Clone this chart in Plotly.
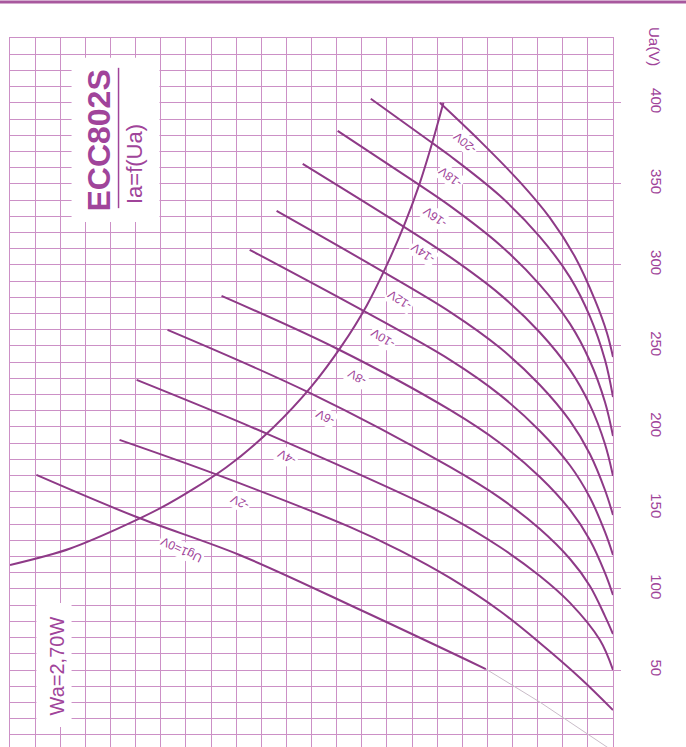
import plotly.graph_objects as go

# ---------------- data ----------------
# anode current Ia (mA) / anode voltage Ua (V) for each grid voltage
curve_names = ["Ug1=0V", "-2V", "-4V", "-6V", "-8V", "-10V", "-12V", "-14V", "-16V", "-18V", "-20V"]
curve_ia = [
    [22.95, 18.96, 14.86, 9.96, 5.06],
    [19.64, 15.74, 10.48, 8.49, 6.49, 4.50, 2.91, 1.31, 0.0],
    [18.96, 13.67, 6.49, 4.50, 2.91, 1.71, 0.52, 0.0],
    [17.73, 12.07, 6.49, 4.50, 2.91, 1.71, 0.92, 0.32, 0.0],
    [15.58, 10.96, 6.49, 4.50, 2.91, 1.71, 0.92, 0.32, 0.0],
    [14.46, 10.00, 6.49, 4.50, 2.91, 1.71, 0.92, 0.32, 0.0],
    [13.39, 9.28, 6.49, 4.50, 2.91, 1.71, 0.92, 0.32, 0.0],
    [12.35, 8.57, 6.49, 4.50, 2.91, 1.71, 0.92, 0.32, 0.0],
    [10.96, 7.89, 6.49, 4.50, 2.91, 1.71, 0.92, 0.32, 0.0],
    [9.64, 7.37, 6.49, 4.50, 2.91, 1.71, 0.92, 0.32, 0.0],
    [6.89, 5.30, 3.71, 2.51, 1.51, 0.72, 0.24, 0.0],
]
curve_ua = [
    [170.4, 144.4, 121.0, 86.4, 50.6],
    [192.0, 170.4, 138.3, 123.8, 106.8, 86.4, 66.7, 45.1, 25.3],
    [229.0, 195.1, 144.4, 125.9, 108.0, 91.4, 68.5, 50.0],
    [259.9, 221.0, 175.3, 156.2, 137.0, 118.5, 101.9, 83.3, 72.2],
    [280.9, 248.1, 210.5, 190.1, 169.1, 148.8, 130.2, 109.9, 96.3],
    [309.3, 272.2, 241.4, 219.8, 197.5, 176.2, 156.5, 135.2, 121.0],
    [333.3, 296.9, 271.0, 248.8, 225.9, 203.7, 183.3, 161.1, 145.7],
    [362.3, 325.9, 304.9, 281.8, 258.3, 235.2, 213.6, 189.5, 169.8],
    [382.7, 351.2, 336.4, 312.3, 287.7, 263.6, 240.7, 215.4, 194.4],
    [402.5, 377.2, 367.3, 342.6, 317.3, 292.3, 268.2, 241.4, 218.5],
    [400.0, 376.5, 351.2, 329.0, 304.9, 278.4, 258.0, 243.2],
]
# faint low-voltage continuation of the Ug1=0V curve
tail_ia = [5.06, 2.91, 0.0]
tail_ua = [50.6, 30.2, 0.0]

# max anode dissipation curve Wa = 2.70 W
wa_ua = [114.8, 125, 150, 175, 200, 225, 250, 275, 300, 325, 350, 375, 400]
wa_ia = [24.0, 21.6, 18.0, 15.4, 13.5, 12.0, 10.8, 9.8, 9.0, 8.3, 7.7, 7.2, 6.75]

# curve label anchor positions (Ia, Ua) and angle
label_ia = [17.17, 14.86, 12.99, 11.47, 10.20, 9.16, 8.49, 7.57, 7.09, 6.49, 5.90]
label_ua = [124.1, 153.7, 181.5, 206.2, 230.9, 254.9, 278.4, 307.4, 329.6, 354.3, 375.3]
label_ang = [-155, -153, -152, -151, -150, -148, -147, -145, -144, -143, -140]

ua_ticks = [0, 50, 100, 150, 200, 250, 300, 350, 400]

# ---------------- style ----------------
CURVE = "#8e3a87"
GRID = "#cc90c6"
TEXT = "#a0449a"
FONT = "Liberation Sans, Arial, sans-serif"

fig = go.Figure()

shapes = [
    dict(type="rect", xref="x", yref="y", x0=21.55, x1=18.05, y0=326.5, y1=427.8,
         fillcolor="white", line_width=0, layer="between"),
    dict(type="rect", xref="x", yref="y", x0=22.95, x1=21.55, y0=14.8, y1=91.4,
         fillcolor="white", line_width=0, layer="between"),
    dict(type="line", xref="x", yref="y", x0=19.68, x1=19.68, y0=335, y1=421.6,
         line=dict(color=TEXT, width=1.5), layer="above"),
    dict(type="line", xref="paper", yref="paper", x0=-0.02, x1=1.2, y0=1.0508, y1=1.0508,
         line=dict(color="#a8589e", width=3)),
]

fig.add_trace(go.Scatter(x=tail_ia, y=tail_ua, mode="lines",
                         line=dict(color="#c9bcc8", width=1), hoverinfo="skip", showlegend=False))
for name, xi, yi in zip(curve_names, curve_ia, curve_ua):
    fig.add_trace(go.Scatter(x=xi, y=yi, mode="lines", name=name,
                             line=dict(color=CURVE, width=2, shape="spline", smoothing=1.0),
                             showlegend=False))
fig.add_trace(go.Scatter(x=wa_ia, y=wa_ua, mode="lines", name="Wa",
                         line=dict(color=CURVE, width=2, shape="spline", smoothing=0.8),
                         showlegend=False))

annotations = []
for name, xi, yi, a in zip(curve_names, label_ia, label_ua, label_ang):
    annotations.append(dict(x=xi, y=yi, xref="x", yref="y", text=name, showarrow=False,
                            textangle=a, bgcolor="white", borderpad=1,
                            font=dict(family=FONT, size=12, color=TEXT)))
annotations += [
    dict(x=20.44, y=377, xref="x", yref="y", text="<b>ECC802S</b>", showarrow=False,
         textangle=-90, font=dict(family=FONT, size=32, color=TEXT)),
    dict(x=19.04, y=362, xref="x", yref="y", text="Ia=f(Ua)", showarrow=False,
         textangle=-90, font=dict(family=FONT, size=22, color=TEXT)),
    dict(x=22.15, y=52.5, xref="x", yref="y", text="Wa=2,70W", showarrow=False,
         textangle=-90, font=dict(family=FONT, size=20, color=TEXT)),
    dict(x=1.0697, y=0.9887, xref="paper", yref="paper", xanchor="center", yanchor="middle",
         text="Ua(V)", showarrow=False, textangle=90,
         font=dict(family=FONT, size=15, color=TEXT)),
    dict(x=1.0697, y=-0.0057, xref="paper", yref="paper", xanchor="center", yanchor="middle",
         text="0", showarrow=False, textangle=90,
         font=dict(family=FONT, size=15, color=TEXT)),
]

fig.update_layout(
    width=686, height=747,
    margin=dict(l=10, r=73, t=38, b=0),
    paper_bgcolor="white", plot_bgcolor="white",
    shapes=shapes, annotations=annotations,
    xaxis=dict(range=[24, 0], dtick=1, tick0=0, showgrid=True, gridcolor=GRID, gridwidth=1,
               showticklabels=False, ticks="", zeroline=False,
               showline=True, linecolor=GRID, linewidth=1, mirror=True),
    yaxis=dict(range=[2.5, 440], side="right", tickvals=ua_ticks, ticks="outside", ticklen=7,
               tickcolor=GRID, tickangle=90, showgrid=True, gridcolor=GRID, gridwidth=1,
               ticklabelstandoff=24,
               tickfont=dict(family=FONT, size=15, color=TEXT), zeroline=False,
               minor=dict(dtick=10, tick0=0, showgrid=True, gridcolor=GRID, gridwidth=1, ticks=""),
               showline=True, linecolor=GRID, linewidth=1, mirror=True),
)

fig.write_html("out.html", config={"displayModeBar": False},
               post_script="document.body.style.margin='0';")
